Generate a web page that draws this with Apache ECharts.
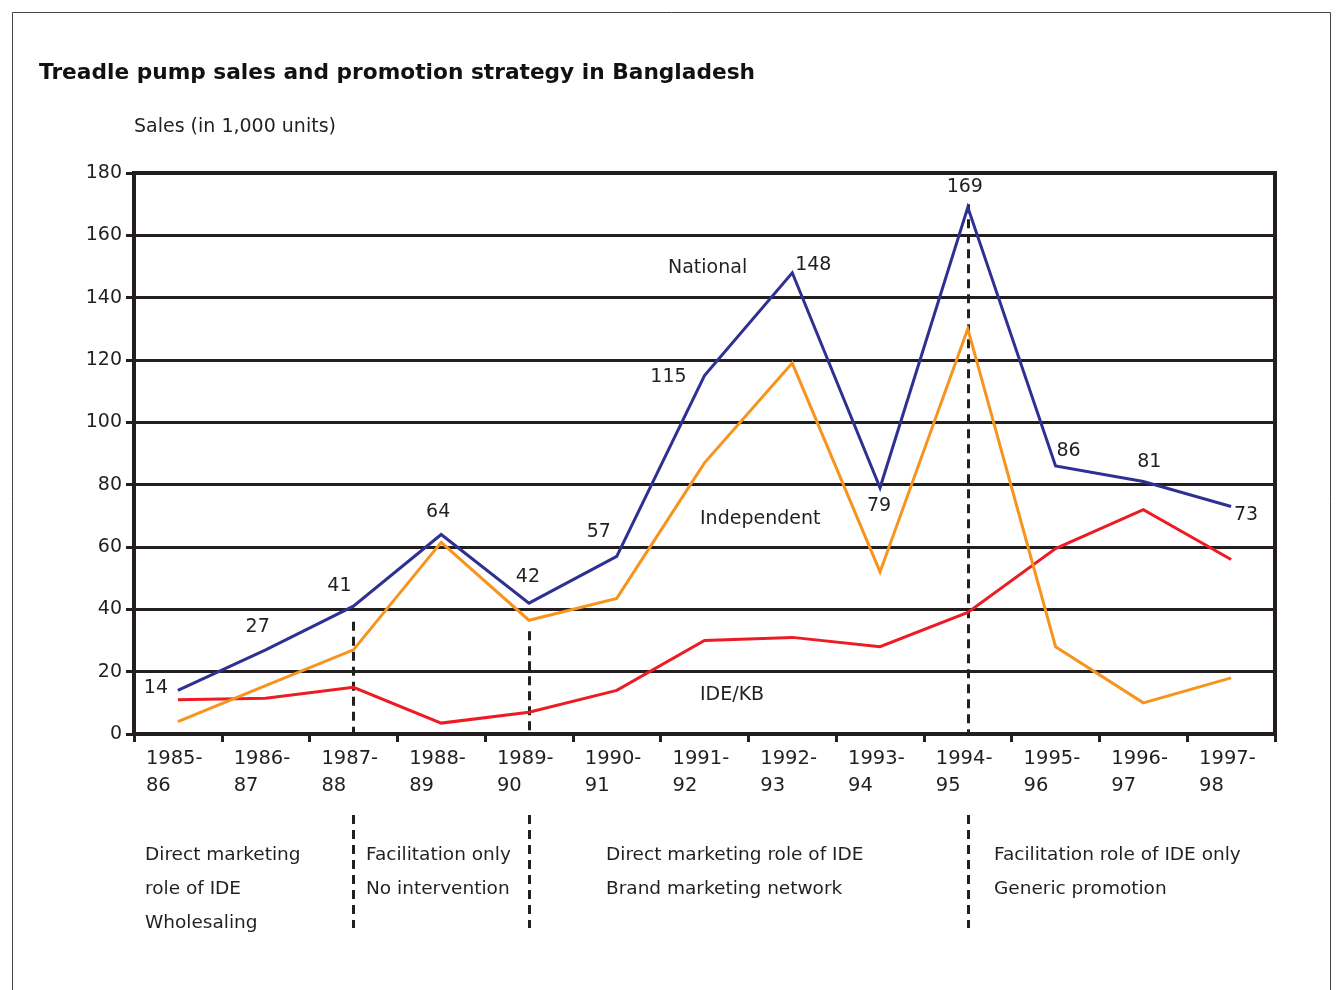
<!DOCTYPE html>
<html>
<head>
<meta charset="utf-8">
<script src="https://cdn.jsdelivr.net/npm/echarts@6/dist/echarts.min.js"></script>
<style>
html,body{margin:0;padding:0;background:#fff;}
#chart{width:1338px;height:990px;}
</style>
</head>
<body>
<div id="chart"></div>
<script>
const categories = ['1985-86','1986-87','1987-88','1988-89','1989-90','1990-91','1991-92','1992-93','1993-94','1994-95','1995-96','1996-97','1997-98'];
const nationalSales = [14, 27, 41, 64, 42, 57, 115, 148, 79, 169, 86, 81, 73];
const independentSales = [4, 15.5, 27, 61.5, 36.5, 43.5, 87, 119, 52, 130, 28, 10, 18];
const ideKbSales = [11, 11.5, 15, 3.5, 7, 14, 30, 31, 28, 39, 59.5, 72, 56];
const yTicks = [0, 20, 40, 60, 80, 100, 120, 140, 160, 180];
const phaseBoundaries = ['1987-88', '1989-90', '1994-95'];
const phaseTexts = [
  ['Direct marketing', 'role of IDE', 'Wholesaling'],
  ['Facilitation only', 'No intervention'],
  ['Direct marketing role of IDE', 'Brand marketing network'],
  ['Facilitation role of IDE only', 'Generic promotion']
];
const seriesNames = ['National', 'Independent', 'IDE/KB'];

// styling (label offsets for National values, pixel offsets from point)
const nationalLabelOffsets = [[-22,-2],[-8,-23],[-14,-20],[-3,-22],[-1,-26],[-18,-24],[-36,1],[21,-8],[-1,18],[-3,-20],[13,-15],[6,-19],[15,9]];
const dashTopValues = [36, 33, 170];
const phaseTextX = [145, 366, 606, 994];

const FONT = '"DejaVu Sans", sans-serif';
const INK = '#231f20';

const chart = echarts.init(document.getElementById('chart'));

const graphics = [
  {type:'rect', shape:{x:12.5, y:12.5, width:1318, height:1000}, style:{fill:'none', stroke:'#444', lineWidth:1}, silent:true},
  {type:'text', left:668, top:259, style:{text:seriesNames[0], font:'19px ' + FONT, fill:INK}},
  {type:'text', left:700, top:510, style:{text:seriesNames[1], font:'19px ' + FONT, fill:INK}},
  {type:'text', left:700, top:686, style:{text:seriesNames[2], font:'19px ' + FONT, fill:INK}}
];
phaseTexts.forEach((lines, i) => {
  lines.forEach((t, j) => {
    graphics.push({type:'text', left:phaseTextX[i], top:846 + j*34, style:{text:t, font:'18.5px ' + FONT, fill:INK}});
  });
});

const lineBase = {
  type:'line', xAxisIndex:0, yAxisIndex:0, symbol:'circle', symbolSize:0.1,
  silent:true, animation:false, z:5
};

chart.setOption({
  animation:false,
  title:{
    text:'Treadle pump sales and promotion strategy in Bangladesh',
    left:34, top:57,
    textStyle:{fontFamily:FONT, fontWeight:'bold', fontSize:21.7, color:'#111'}
  },
  grid:[
    {left:134, right:63, top:173, bottom:256, show:true, borderColor:INK, borderWidth:4, backgroundColor:'transparent'},
    {left:134, right:63, top:815, height:113, show:false}
  ],
  xAxis:[
    {
      type:'category', data:categories, gridIndex:0, boundaryGap:true,
      axisLine:{show:true, lineStyle:{color:INK, width:4}},
      axisTick:{show:true, interval:0, length:8, lineStyle:{color:INK, width:3}},
      axisLabel:{
        interval:0, margin:11, color:INK, fontFamily:FONT, fontSize:19.5, lineHeight:27,
        formatter:function(v){ const p = v.split('-'); return '{a|' + p[0] + '-}\n{a|' + p[1] + '}'; },
        rich:{a:{width:64, align:'left', fontFamily:FONT, fontSize:19.5, color:INK, lineHeight:27}}
      },
      splitLine:{show:false}
    },
    {type:'category', data:categories, gridIndex:1, boundaryGap:true, show:false}
  ],
  yAxis:[
    {
      type:'value', gridIndex:0, min:yTicks[0], max:yTicks[yTicks.length-1], interval:20,
      name:'Sales (in 1,000 units)', nameLocation:'end', nameGap:36,
      nameTextStyle:{align:'left', fontFamily:FONT, fontSize:19, color:INK},
      axisLine:{show:true, lineStyle:{color:INK, width:4}},
      axisTick:{show:true, length:8, lineStyle:{color:INK, width:3}},
      axisLabel:{margin:12, color:INK, fontFamily:FONT, fontSize:19},
      splitLine:{show:true, lineStyle:{color:INK, width:3}}
    },
    {type:'value', gridIndex:1, min:0, max:1, show:false}
  ],
  graphic:graphics,
  series:[
    Object.assign({}, lineBase, {
      name:seriesNames[2], data:ideKbSales,
      lineStyle:{color:'#ed1c24', width:3, join:'miter', miterLimit:20},
      itemStyle:{color:'#ed1c24'}, label:{show:false}
    }),
    Object.assign({}, lineBase, {
      name:seriesNames[1], data:independentSales,
      lineStyle:{color:'#f7941d', width:3, join:'miter', miterLimit:20},
      itemStyle:{color:'#f7941d'}, label:{show:false}
    }),
    Object.assign({}, lineBase, {
      name:seriesNames[0],
      data:nationalSales.map((v, i) => ({
        value:v,
        label:{show:true, position:'inside', offset:nationalLabelOffsets[i], formatter:String(v),
               fontFamily:FONT, fontSize:19, color:INK}
      })),
      lineStyle:{color:'#2e3192', width:3, join:'miter', miterLimit:20},
      itemStyle:{color:'#2e3192'}
    }),
    {
      type:'line', xAxisIndex:0, yAxisIndex:0, data:[], silent:true, z:3,
      markLine:{
        silent:true, symbol:'none', animation:false,
        label:{show:false},
        lineStyle:{color:INK, width:3, type:[9,6]},
        data:phaseBoundaries.map((c, i) => [{coord:[c, dashTopValues[i]]}, {coord:[c, 0]}])
      }
    },
    {
      type:'line', xAxisIndex:1, yAxisIndex:1, data:[], silent:true,
      markLine:{
        silent:true, symbol:'none', animation:false,
        label:{show:false},
        lineStyle:{color:INK, width:3, type:[9,6]},
        data:phaseBoundaries.map(c => [{coord:[c, 1]}, {coord:[c, 0]}])
      }
    }
  ]
});
</script>
</body>
</html>
